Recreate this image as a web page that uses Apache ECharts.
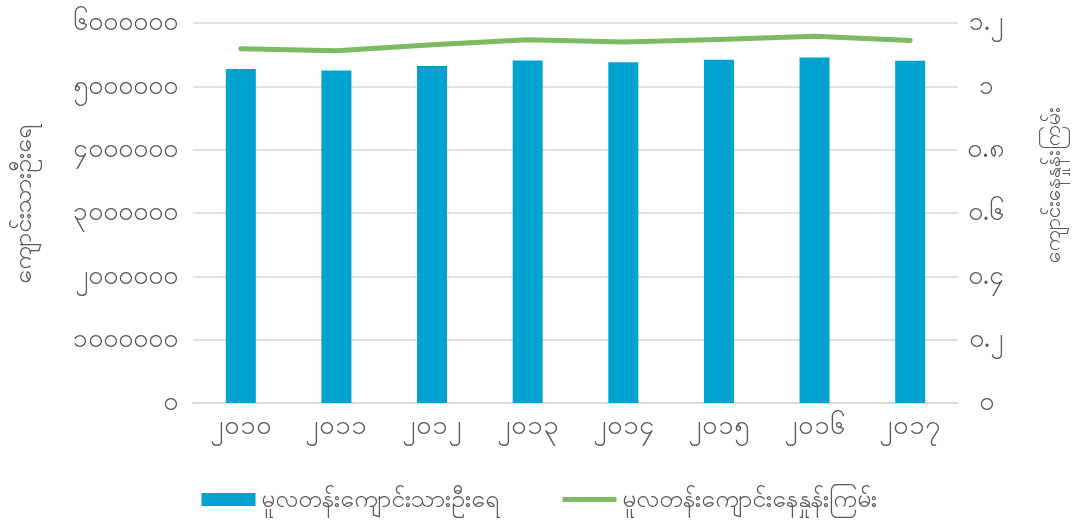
<!DOCTYPE html>
<html>
<head>
<meta charset="utf-8">
<script src="https://cdn.jsdelivr.net/npm/echarts@6/dist/echarts.min.js"></script>
<style>
  html, body { margin: 0; padding: 0; background: #ffffff; }
  #chart { width: 1078px; height: 523px; }
</style>
</head>
<body>
<div id="chart"></div>
<script>
// Years (Myanmar numerals)
const years = ['၂၀၁၀', '၂၀၁၁', '၂၀၁၂', '၂၀၁၃', '၂၀၁၄', '၂၀၁၅', '၂၀၁၆', '၂၀၁၇'];

// Primary school enrolment (students)
const enrolment = [5275000, 5249000, 5323000, 5407000, 5381000, 5418000, 5455000, 5402000];

// Primary gross enrolment ratio
const grossRatio = [1.119, 1.112, 1.131, 1.147, 1.140, 1.148, 1.158, 1.145];

// Axis tick labels
const leftTicks = ['၀', '၁၀၀၀၀၀၀', '၂၀၀၀၀၀၀', '၃၀၀၀၀၀၀', '၄၀၀၀၀၀၀', '၅၀၀၀၀၀၀', '၆၀၀၀၀၀၀'];
const rightTicks = ['၀', '၀.၂', '၀.၄', '၀.၆', '၀.၈', '၁', '၁.၂'];

const seriesNames = ['မူလတန်းကျောင်းသားဦးရေ', 'မူလတန်းကျောင်းနေနှုန်းကြမ်း'];
const axisNames = ['ကျောင်းသားဦးရေ', 'ကျောင်းနေနှုန်းကြမ်း'];

const textColor = '#595959';
const gridColor = '#d9d9d9';
const barColor = '#00a3d0';
const lineColor = '#7cbb63';
const font = 'Noto Sans, sans-serif';

// Thin horizontal stroke centred in the legend item box (outer moves keep the box height)
const lineIcon = 'path://M0,0 M0,4 L54,4 L54,9 L0,9 Z M54,13';

const chart = echarts.init(document.getElementById('chart'), null, { renderer: 'canvas' });

chart.setOption({
  animation: false,
  textStyle: { fontFamily: font, color: textColor },
  grid: { left: 193, right: 120, top: 23, bottom: 120, containLabel: false },
  legend: {
    bottom: 6,
    left: 'center',
    itemWidth: 54,
    itemHeight: 13,
    itemGap: 64,
    textStyle: { fontSize: 25, color: textColor, fontFamily: font },
    data: [
      { name: seriesNames[0], icon: 'rect' },
      { name: seriesNames[1], icon: lineIcon, itemStyle: { color: lineColor } }
    ]
  },
  xAxis: {
    type: 'category',
    data: years,
    axisLine: { lineStyle: { color: gridColor, width: 1.5 } },
    axisTick: { show: false },
    axisLabel: { fontSize: 27, color: textColor, margin: 10, fontFamily: font }
  },
  yAxis: [
    {
      type: 'value',
      min: 0,
      max: 6000000,
      interval: 1000000,
      name: axisNames[0],
      nameLocation: 'middle',
      nameRotate: 90,
      nameGap: 157,
      nameTextStyle: { fontSize: 25, color: textColor, fontFamily: font, padding: [0, 0, 0, 18] },
      axisLine: { show: false },
      axisTick: { show: false },
      splitLine: { lineStyle: { color: gridColor, width: 1.5 } },
      axisLabel: {
        fontSize: 26, color: textColor, margin: 15, fontFamily: font,
        formatter: v => leftTicks[Math.round(v / 1000000)]
      }
    },
    {
      type: 'value',
      min: 0,
      max: 1.2,
      interval: 0.2,
      position: 'right',
      name: axisNames[1],
      nameLocation: 'middle',
      nameRotate: 90,
      nameGap: 86,
      nameTextStyle: { fontSize: 21, color: textColor, fontFamily: font, padding: [0, 0, 0, 56] },
      axisLine: { show: false },
      axisTick: { show: false },
      splitLine: { show: false },
      axisLabel: {
        fontSize: 26, color: textColor, margin: 28, align: 'center', fontFamily: font,
        formatter: v => rightTicks[Math.round(v / 0.2)]
      }
    }
  ],
  series: [
    {
      name: seriesNames[0],
      type: 'bar',
      data: enrolment,
      yAxisIndex: 0,
      barWidth: 30,
      itemStyle: { color: barColor }
    },
    {
      name: seriesNames[1],
      type: 'line',
      data: grossRatio,
      yAxisIndex: 1,
      symbol: 'none',
      showSymbol: false,
      lineStyle: { color: lineColor, width: 5, cap: 'round', join: 'round' },
      itemStyle: { color: lineColor }
    }
  ]
});
</script>
</body>
</html>
